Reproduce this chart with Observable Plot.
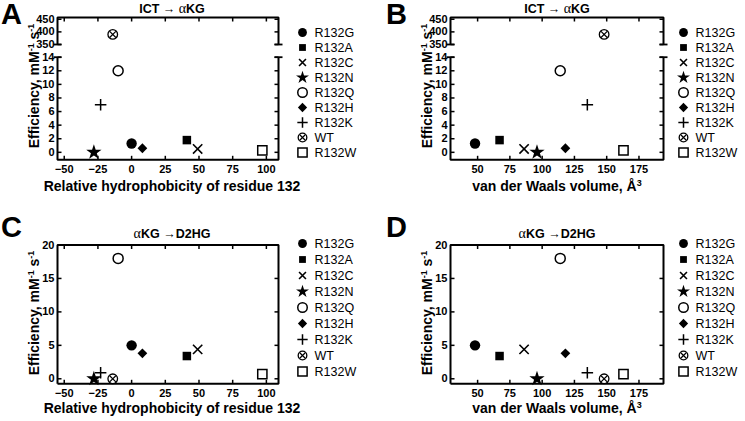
<!DOCTYPE html>
<html><head><meta charset="utf-8">
<script src="https://cdn.jsdelivr.net/npm/d3@7"></script>
<script src="https://cdn.jsdelivr.net/npm/@observablehq/plot@0.6"></script>
<style>
body{margin:0;background:#fff;}
#root{width:745px;height:421px;overflow:hidden;background:#fff;}
</style></head><body><div id="root"></div>
<script>
// ---- data ----
const mutants = ["R132G","R132A","R132C","R132N","R132Q","R132H","R132K","WT","R132W"];
const hydrophobicity = [0, 41, 49, -28, -10, 8, -23, -14, 97];
const vdwVolume = [48, 67, 86, 96, 114, 118, 135, 148, 163];
const effICT = [1.3, 1.8, 0.5, 0, 12, 0.6, 7, 390, 0.3];
const effD2HG = [5.0, 3.4, 4.4, 0, 18, 3.8, 0.9, 0, 0.7];
const hydroTicks = [-50, -25, 0, 25, 50, 75, 100];
const volumeTicks = [50, 75, 100, 125, 150, 175];
const ictLowTicks = [0, 2, 4, 6, 8, 10, 12, 14];
const ictHighTicks = [350, 400, 450];
const d2hgTicks = [0, 5, 10, 15, 20];

// ---- marker styles ----
const styles = {
  R132G: [{symbol: "circle", fill: "black", stroke: "none", r: 5.2}],
  R132A: [{symbol: "square", fill: "black", stroke: "none", r: 4.8}],
  R132C: [{symbol: "times", fill: "none", stroke: "black", strokeWidth: 1.6, r: 4.3}],
  R132N: [{symbol: "star", fill: "black", stroke: "none", r: 4.8}],
  R132Q: [{symbol: "circle", fill: "white", stroke: "black", strokeWidth: 1.5, r: 5}],
  R132H: [{symbol: "diamond2", fill: "black", stroke: "none", r: 4.4}],
  R132K: [{symbol: "plus", fill: "none", stroke: "black", strokeWidth: 1.5, r: 3.8}],
  WT: [{symbol: "circle", fill: "white", stroke: "black", strokeWidth: 1.3, r: 4.8},
       {symbol: "times", fill: "none", stroke: "black", strokeWidth: 1.2, r: 2.9}],
  R132W: [{symbol: "square", fill: "white", stroke: "black", strokeWidth: 1.5, r: 5.2}]
};
const legendScale = {R132G: 0.85, R132A: 0.8, R132C: 0.75, R132N: 0.85, R132Q: 0.95, R132H: 0.95, R132K: 0.9, WT: 0.9, R132W: 1};

const FONT = "'Liberation Sans', Arial, sans-serif";
const NS = "http://www.w3.org/2000/svg";
const master = document.createElementNS(NS, "svg");
master.setAttribute("width", 745);
master.setAttribute("height", 421);
master.setAttribute("viewBox", "0 0 745 421");
master.setAttribute("font-family", FONT);
master.style.display = "block";
master.style.color = "black";
master.style.background = "white";
document.getElementById("root").appendChild(master);

// move a Plot-generated chart into the single page SVG
function place(svg, x, y, weight) {
  const g = document.createElementNS(NS, "g");
  g.setAttribute("transform", `translate(${x},${y})`);
  g.setAttribute("fill", "currentColor");
  g.setAttribute("text-anchor", "middle");
  g.setAttribute("font-family", FONT);
  g.setAttribute("font-size", "11");
  g.setAttribute("font-weight", weight);
  for (const c of Array.from(svg.childNodes)) {
    if (c.nodeName && c.nodeName.toLowerCase() === "style") continue;
    g.appendChild(c);
  }
  master.appendChild(g);
}

// short stroke symbols used for inward ticks and axis-break caps
const tickSym = (dx, dy) => ({draw(ctx) { ctx.moveTo(0, 0); ctx.lineTo(dx, dy); }});
const capSym = {draw(ctx) { ctx.moveTo(-4, 0); ctx.lineTo(4, 0); }};
const tickStyle = {fill: "none", stroke: "black", strokeWidth: 1.5, r: 1};

function dotMarks(rows, keep) {
  const marks = [];
  for (const m of mutants) {
    for (const s of styles[m]) {
      marks.push(Plot.dot(rows, {x: "x", y: "y", filter: d => d.name === m && keep(d), ...s}));
    }
  }
  return marks;
}

function subplot({frameL, frameR, frameT, frameB, xDomain, xTicks, yDomain, yTicks, rows, keep,
                  topSide, bottomSide, capTop, capBottom}) {
  const mL = 45, mR = 10, mT = 8, mB = bottomSide ? 24 : 8;
  const W = frameR - frameL, H = frameB - frameT, T = 4;
  const [x0, x1] = xDomain, [y0, y1] = yDomain;
  let framePts;
  if (topSide && bottomSide) framePts = [[x0, y0], [x0, y1], [x1, y1], [x1, y0], [x0, y0]];
  else if (topSide) framePts = [[x0, y0], [x0, y1], [x1, y1], [x1, y0]];
  else framePts = [[x0, y1], [x0, y0], [x1, y0], [x1, y1]];
  const marks = [
    Plot.line(framePts, {x: d => d[0], y: d => d[1], stroke: "black", strokeWidth: 2,
      strokeLinejoin: "miter", strokeLinecap: "butt"}),
    Plot.dot(yTicks, {x: () => x0, y: d => d, symbol: tickSym(T, 0), ...tickStyle}),
    Plot.dot(yTicks, {x: () => x1, y: d => d, symbol: tickSym(-T, 0), ...tickStyle}),
    Plot.axisY({anchor: "left", ticks: yTicks, tickSize: 0, tickPadding: 3, label: null})
  ];
  if (topSide) {
    marks.push(Plot.dot(xTicks, {x: d => d, y: () => y1, symbol: tickSym(0, T), ...tickStyle}));
  }
  if (bottomSide) {
    marks.push(Plot.dot(xTicks, {x: d => d, y: () => y0, symbol: tickSym(0, -T), ...tickStyle}));
    marks.push(Plot.axisX({anchor: "bottom", ticks: xTicks, tickSize: 0, tickPadding: 5, label: null}));
  }
  for (const [flag, yv] of [[capTop, y1], [capBottom, y0]]) {
    if (!flag) continue;
    marks.push(Plot.dot(xDomain, {x: d => d, y: () => yv, symbol: capSym, fill: "none", stroke: "black", strokeWidth: 1.8, r: 1}));
  }
  marks.push(...dotMarks(rows, keep));
  const svg = Plot.plot({
    width: W + mL + mR,
    height: H + mT + mB,
    marginLeft: mL, marginRight: mR, marginTop: mT, marginBottom: mB,
    x: bottomSide ? {type: "linear", domain: xDomain} : {type: "linear", domain: xDomain, axis: null},
    y: {type: "linear", domain: yDomain},
    marks
  });
  place(svg, frameL - mL, frameT - mT, "bold");
}

function legend(x0, yTop, yBottom) {
  const marks = [];
  for (const m of mutants) {
    for (const s of styles[m]) {
      marks.push(Plot.dot([m], {x: () => 0, y: d => d, ...s, r: s.r * legendScale[m]}));
    }
  }
  marks.push(Plot.text(mutants, {x: () => 0, y: d => d, text: d => d, dx: 12, textAnchor: "start",
    fontSize: 12.5, fontWeight: "normal", fill: "black"}));
  const svg = Plot.plot({
    width: 90, height: yBottom - yTop + 20,
    marginLeft: 10, marginRight: 0, marginTop: 10, marginBottom: 10,
    x: {type: "linear", domain: [0, 1], axis: null},
    y: {type: "point", domain: mutants, axis: null},
    marks
  });
  place(svg, x0 - 10, yTop - 10, "normal");
}

function addText(markup, attrs) {
  const t = document.createElementNS(NS, "text");
  for (const [k, v] of Object.entries(attrs)) t.setAttribute(k, v);
  t.setAttribute("fill", "black");
  t.setAttribute("font-family", FONT);
  t.innerHTML = markup;
  master.appendChild(t);
}

const rowsHA = mutants.map((m, i) => ({name: m, x: hydrophobicity[i], y: effICT[i]}));
const rowsVA = mutants.map((m, i) => ({name: m, x: vdwVolume[i], y: effICT[i]}));
const rowsHC = mutants.map((m, i) => ({name: m, x: hydrophobicity[i], y: effD2HG[i]}));
const rowsVC = mutants.map((m, i) => ({name: m, x: vdwVolume[i], y: effD2HG[i]}));

const hDomain = [-55, 109];
const vDomain = [29, 194];

// Panels A & B (broken y axis)
for (const [fl, fr, rows, ticks, xd] of [[57, 278, rowsHA, hydroTicks, hDomain], [450, 663, rowsVA, volumeTicks, vDomain]]) {
  subplot({frameL: fl, frameR: fr, frameT: 17, frameB: 44, xDomain: xd, xTicks: ticks,
    yDomain: [350, 457], yTicks: ictHighTicks, rows, keep: d => d.y > 100,
    topSide: true, bottomSide: false, capBottom: true});
  subplot({frameL: fl, frameR: fr, frameT: 56.7, frameB: 159.3, xDomain: xd, xTicks: ticks,
    yDomain: [-1.1, 14], yTicks: ictLowTicks, rows, keep: d => d.y <= 100,
    topSide: false, bottomSide: true, capTop: true});
}
// Panels C & D
subplot({frameL: 57, frameR: 278, frameT: 244.5, frameB: 383.3, xDomain: hDomain, xTicks: hydroTicks,
  yDomain: [-0.75, 20], yTicks: d2hgTicks, rows: rowsHC, keep: () => true, topSide: true, bottomSide: true});
subplot({frameL: 450, frameR: 663, frameT: 244.5, frameB: 383.3, xDomain: vDomain, xTicks: volumeTicks,
  yDomain: [-0.75, 20], yTicks: d2hgTicks, rows: rowsVC, keep: () => true, topSide: true, bottomSide: true});

legend(302, 20, 163);
legend(683, 20, 163);
legend(302, 233, 380);
legend(683, 233, 380);

// ---- text ----
const alpha = '<tspan font-family="Liberation Serif, DejaVu Serif, serif" font-weight="normal" font-size="14">α</tspan>';
const ictTitle = "ICT → " + alpha + "KG";
const d2Title = alpha + "KG →D2HG";
const effLabel = 'Efficiency, mM<tspan dy="-5" font-size="9">-1</tspan><tspan dy="5"> s</tspan><tspan dy="-5" font-size="9">-1</tspan>';
const volLabel = 'van der Waals volume, Å<tspan dy="-5" font-size="9">3</tspan>';
const hydLabel = "Relative hydrophobicity of residue 132";

for (const [ch, x, y] of [["A", 1, 24], ["B", 386, 24], ["C", 1, 237], ["D", 386, 237]]) {
  addText(ch, {x, y, "font-size": 29, "font-weight": "bold"});
}
for (const [t, x, y] of [[ictTitle, 172, 13], [ictTitle, 557, 13], [d2Title, 172, 238], [d2Title, 557, 238]]) {
  addText(t, {x, y, "font-size": 12.5, "font-weight": "bold", "text-anchor": "middle"});
}
for (const [t, x, y] of [[hydLabel, 172, 191], [volLabel, 557, 191], [hydLabel, 172, 413], [volLabel, 557, 413]]) {
  addText(t, {x, y, "font-size": 14, "font-weight": "bold", "text-anchor": "middle"});
}
for (const [x, y] of [[38.5, 86], [431.5, 86], [38.5, 313], [431.5, 313]]) {
  addText(effLabel, {transform: `translate(${x},${y}) rotate(-90)`, "font-size": 14, "font-weight": "bold", "text-anchor": "middle"});
}
</script>
</body></html>
